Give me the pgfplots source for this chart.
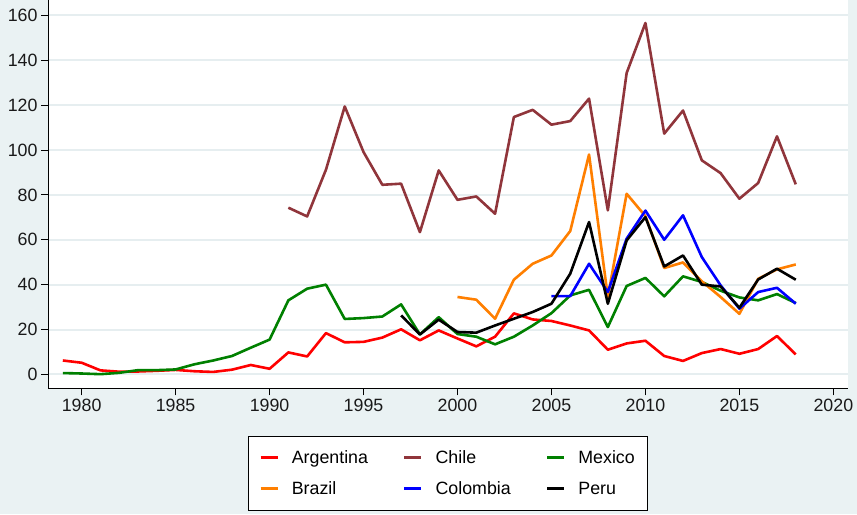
\documentclass[border=0pt]{standalone}
\usepackage{fontspec}
\setmainfont{Liberation Sans}
\usepackage{pgfplots}
\pgfplotsset{compat=1.18}
\definecolor{bgc}{RGB}{234,242,243}
\definecolor{gridc}{RGB}{230,238,240}
\definecolor{cranb}{RGB}{144,53,59}
\definecolor{sorange}{RGB}{255,127,0}
\definecolor{sgreen}{RGB}{0,128,0}
\begin{document}
\begin{tikzpicture}[x=1bp,y=1bp]
\fill[bgc] (0,0) rectangle (857,514);
\begin{axis}[
 at={(48bp,126bp)}, anchor=south west,
 scale only axis, width=800bp, height=388bp,
 xmin=1978.21, xmax=2020.78, ymin=-6.24, ymax=166.68,
 axis background/.style={fill=white},
 axis x line*=bottom, axis y line*=left,
 axis line style={black, line width=0.8bp, -},
 xtick={1980,1985,...,2020}, ytick={0,20,...,160},
 tick align=outside, major tick length=7bp,
 tick style={black, line width=0.8bp},
 ymajorgrids, grid style={gridc, line width=2bp},
 /pgf/number format/assume math mode=true,
 /pgf/number format/set thousands separator={},
 ticklabel style={font=\fontsize{17.8bp}{21bp}\selectfont, text=black!90},
 legend columns=3,
 legend cell align=left,
 legend style={at={(0.5,-0.314)}, anchor=south, draw=black, line width=0.6bp, fill=white,
   font=\fontsize{17.8bp}{21bp}\selectfont, inner xsep=11bp, inner ysep=12bp, row sep=13bp,
   /tikz/every odd column/.append style={column sep=11bp},
   /tikz/every even column/.append style={column sep=33bp}},
 every axis plot/.append style={line width=2.6bp, line join=round},
]
\addplot[red] coordinates {(1979,6.2)(1980,5.2)(1981,1.8)(1982,1.2)(1983,1.3)(1984,1.6)(1985,2.0)(1986,1.4)(1987,1.1)(1988,2.1)(1989,4.2)(1990,2.5)(1991,9.8)(1992,8.0)(1993,18.4)(1994,14.3)(1995,14.5)(1996,16.4)(1997,20.1)(1998,15.2)(1999,19.6)(2000,16.0)(2001,12.5)(2002,16.8)(2003,27.2)(2004,24.5)(2005,23.8)(2006,21.8)(2007,19.6)(2008,11.0)(2009,13.8)(2010,15.0)(2011,8.2)(2012,6.0)(2013,9.5)(2014,11.3)(2015,9.2)(2016,11.3)(2017,17.1)(2018,8.9)};
\addlegendentry{Argentina}
\addplot[cranb] coordinates {(1991,74.3)(1992,70.4)(1993,91.2)(1994,119.4)(1995,99.1)(1996,84.5)(1997,85.0)(1998,63.4)(1999,90.9)(2000,77.8)(2001,79.3)(2002,71.6)(2003,114.7)(2004,117.9)(2005,111.3)(2006,112.9)(2007,122.9)(2008,73.1)(2009,134.3)(2010,156.6)(2011,107.3)(2012,117.6)(2013,95.4)(2014,89.7)(2015,78.3)(2016,85.3)(2017,106.1)(2018,84.7)};
\addlegendentry{Chile}
\addplot[sgreen] coordinates {(1979,0.6)(1980,0.4)(1981,0.1)(1982,0.7)(1983,1.9)(1984,1.9)(1985,2.2)(1986,4.5)(1987,6.2)(1988,8.2)(1989,11.9)(1990,15.5)(1991,33.0)(1992,38.2)(1993,40.0)(1994,24.7)(1995,25.1)(1996,25.8)(1997,31.2)(1998,17.8)(1999,25.5)(2000,18.0)(2001,16.8)(2002,13.4)(2003,16.8)(2004,21.8)(2005,27.3)(2006,35.2)(2007,37.7)(2008,21.1)(2009,39.4)(2010,43.0)(2011,34.8)(2012,43.7)(2013,41.2)(2014,37.3)(2015,34.3)(2016,33.0)(2017,35.8)(2018,31.8)};
\addlegendentry{Mexico}
\addplot[sorange] coordinates {(2000,34.5)(2001,33.3)(2002,24.8)(2003,42.2)(2004,49.3)(2005,53.0)(2006,63.9)(2007,98.0)(2008,34.5)(2009,80.5)(2010,70.5)(2011,47.4)(2012,49.9)(2013,41.5)(2014,34.5)(2015,27.0)(2016,42.6)(2017,46.8)(2018,49.0)};
\addlegendentry{Brazil}
\addplot[blue] coordinates {(2005,34.9)(2006,34.9)(2007,49.3)(2008,36.7)(2009,60.5)(2010,73.0)(2011,60.0)(2012,70.9)(2013,52.3)(2014,39.7)(2015,29.3)(2016,36.7)(2017,38.6)(2018,31.5)};
\addlegendentry{Colombia}
\addplot[black] coordinates {(1997,26.3)(1998,17.8)(1999,24.4)(2000,18.9)(2001,18.6)(2002,21.8)(2003,24.8)(2004,27.8)(2005,31.5)(2006,44.9)(2007,67.9)(2008,31.5)(2009,59.7)(2010,70.1)(2011,48.1)(2012,53.0)(2013,40.0)(2014,39.2)(2015,29.7)(2016,42.3)(2017,47.1)(2018,42.2)};
\addlegendentry{Peru}
\end{axis}
\end{tikzpicture}
\end{document}
